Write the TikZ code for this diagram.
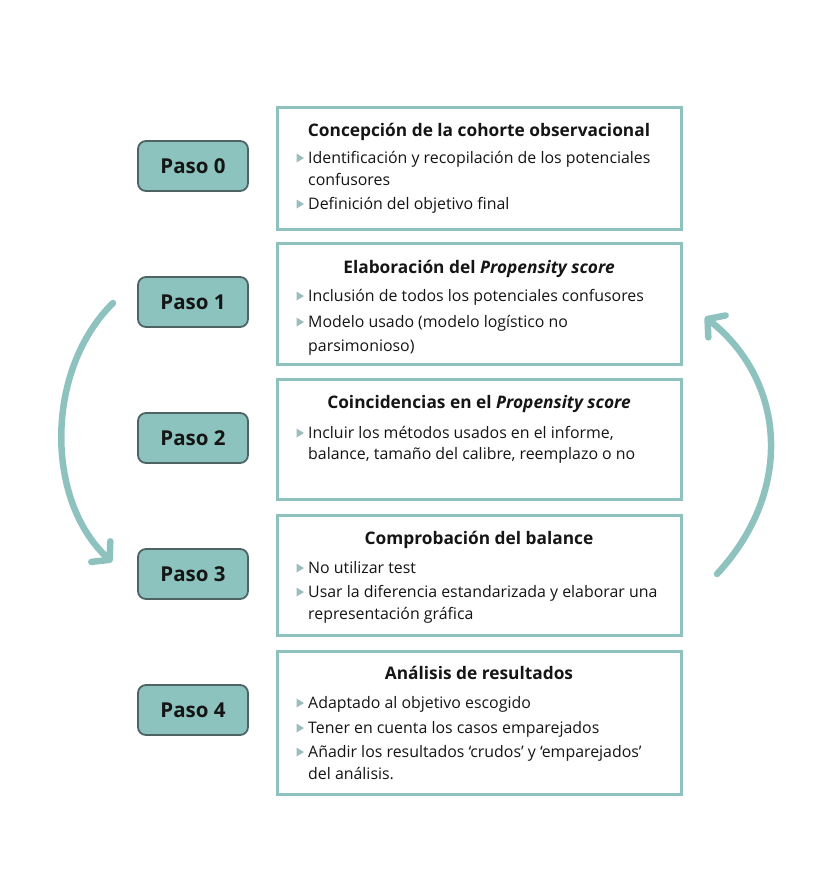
\documentclass[tikz,border=0pt]{standalone}
\usepackage{fontspec}
\setmainfont{Open Sans}
\usetikzlibrary{arrows.meta}
\definecolor{frameteal}{HTML}{8EC2BE}
\definecolor{pasofill}{HTML}{8CC3BF}
\definecolor{pasoedge}{HTML}{4E6464}
\definecolor{bulletc}{HTML}{9CBDBD}
\definecolor{txt}{HTML}{151515}
\tikzset{
  pasobox/.style={draw=pasoedge, line width=1.8pt, fill=pasofill, rounded corners=8pt,
    minimum width=110pt, minimum height=50pt, inner sep=0pt,
    font=\fontsize{20.5}{24}\selectfont\bfseries, text=txt},
  infobox/.style={draw=frameteal, line width=3pt, fill=white},
  titletxt/.style={font=\fontsize{17.3}{20}\selectfont\bfseries, text=txt, inner sep=0pt, anchor=mid, yshift=-3pt},
  bodytxt/.style={font=\fontsize{15.9}{19}\selectfont, text=txt, inner sep=0pt, anchor=mid west, yshift=-2.5pt},
  cyclearrow/.style={draw=frameteal, line width=6.5pt, line cap=round,
    -{Straight Barb[length=12pt, width=28pt, line join=round, line cap=round]}},
}
\newcommand{\bul}[2]{\fill[bulletc] (#1-3.5,#2-4.5) -- (#1-3.5,#2+4.5) -- (#1+4,#2) -- cycle;}
\begin{document}
\begin{tikzpicture}[x=1pt,y=-1pt]
\useasboundingbox (0,0) rectangle (834,873);
% step boxes
\node[pasobox] (p0) at (193,166) {Paso 0};
\node[pasobox] (p1) at (193,302) {Paso 1};
\node[pasobox] (p2) at (193,438) {Paso 2};
\node[pasobox] (p3) at (193,574) {Paso 3};
\node[pasobox] (p4) at (193,710) {Paso 4};
% info boxes
\draw[infobox] (277,107) rectangle (681,229);
\draw[infobox] (277,243) rectangle (681,364);
\draw[infobox] (277,379) rectangle (681,499);
\draw[infobox] (277,515) rectangle (681,635);
\draw[infobox] (277,651) rectangle (681,794);
% box 0
\node[titletxt] (t0) at (479,131) {Concepción de la cohorte observacional};
\bul{300}{158}
\node[bodytxt] (b0a) at (308,158) {Identificación y recopilación de los potenciales};
\node[bodytxt] (b0b) at (308,180) {confusores};
\bul{300}{204}
\node[bodytxt] (b0c) at (308,204) {Definición del objetivo final};
% box 1
\node[titletxt] (t1) at (479,268) {Elaboración del \textit{Propensity score}};
\bul{300}{296}
\node[bodytxt] (b1a) at (308,296) {Inclusión de todos los potenciales confusores};
\bul{300}{322}
\node[bodytxt] (b1b) at (308,322) {Modelo usado (modelo logístico no};
\node[bodytxt] (b1c) at (308,346) {parsimonioso)};
% box 2
\node[titletxt] (t2) at (479,403) {Coincidencias en el \textit{Propensity score}};
\bul{300}{433}
\node[bodytxt] (b2a) at (308,433) {Incluir los métodos usados en el informe,};
\node[bodytxt] (b2b) at (308,454) {balance, tamaño del calibre, reemplazo o no};
% box 3
\node[titletxt] (t3) at (479,539) {Comprobación del balance};
\bul{300}{568}
\node[bodytxt] (b3a) at (308,568) {No utilizar test};
\bul{300}{592}
\node[bodytxt] (b3b) at (308,592) {Usar la diferencia estandarizada y elaborar una};
\node[bodytxt] (b3c) at (308,614) {representación gráfica};
% box 4
\node[titletxt] (t4) at (479,674) {Análisis de resultados};
\bul{300}{703}
\node[bodytxt] (b4a) at (308,703) {Adaptado al objetivo escogido};
\bul{300}{728}
\node[bodytxt] (b4b) at (308,728) {Tener en cuenta los casos emparejados};
\bul{300}{752}
\node[bodytxt] (b4c) at (308,752) {Añadir los resultados ‘crudos’ y ‘emparejados’};
\node[bodytxt] (b4d) at (308,774) {del análisis.};
% cycle arrows
\coordinate (la) at (113,303);
\coordinate (lb) at (112,562);
\coordinate (ra) at (717,574);
\coordinate (rb) at (705,317);
\draw[cyclearrow] (la) .. controls (45,370) and (45,500) .. (lb);
\draw[cyclearrow] (ra) .. controls (795,490) and (785,380) .. (rb);
\end{tikzpicture}
\end{document}
